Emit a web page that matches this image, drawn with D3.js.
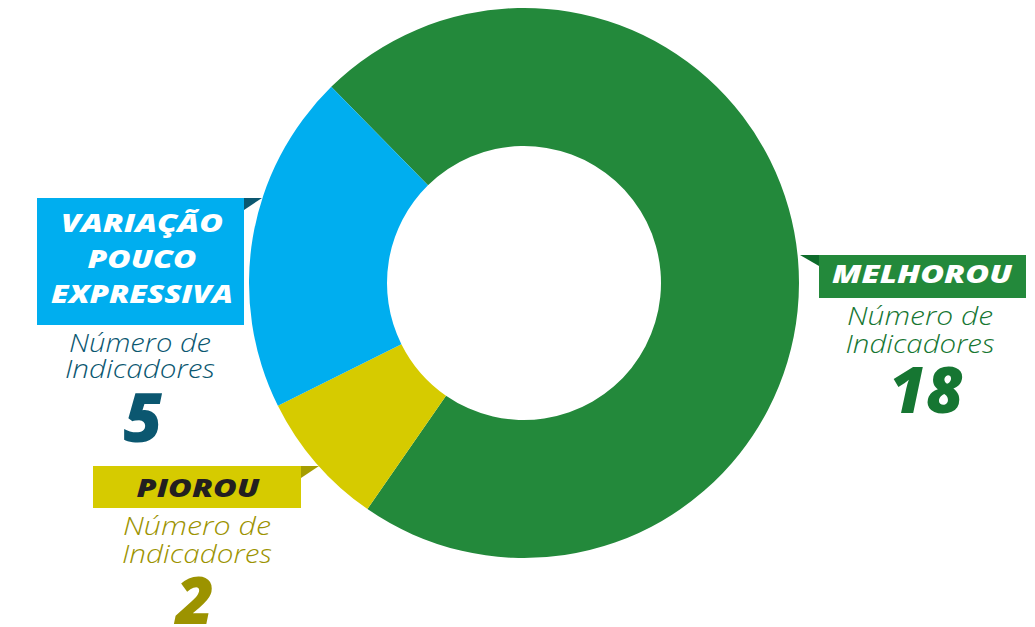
<!DOCTYPE html>
<html lang="pt-BR">
<head>
<meta charset="utf-8">
<script src="https://cdn.jsdelivr.net/npm/d3@7"></script>
<style>
  html, body { margin: 0; padding: 0; background: #ffffff; }
  svg { display: block; }
  .title { font-family: "Open Sans", "DejaVu Sans", sans-serif; font-weight: 800; font-style: italic; }
  .sub { font-family: "Open Sans", "DejaVu Sans", sans-serif; font-weight: 300; font-style: italic; }
  .num { font-family: "Open Sans", "DejaVu Sans", sans-serif; font-weight: 800; font-style: italic; }
</style>
</head>
<body>
<svg id="chart" width="1035" height="627"></svg>
<script>
// Indicator counts by outcome
const categories = ["MELHOROU", "PIOROU", "VARIAÇÃO POUCO EXPRESSIVA"];
const titleLines = [["MELHOROU"], ["PIOROU"], ["VARIAÇÃO", "POUCO", "EXPRESSIVA"]];
const values = [18, 2, 5];
const subtitleLines = ["Número de", "Indicadores"];

// Colours per category: slice, callout text, callout pointer, title text
const sliceColors = ["#23893b", "#d6cb00", "#00aeef"];
const textColors = ["#167632", "#9c9300", "#0b5770"];
const pointerColors = ["#0e6b2b", "#a59d00", "#0b5770"];
const titleColors = ["#ffffff", "#231f20", "#ffffff"];

const width = 1035, height = 627;
const svg = d3.select("#chart");

// Ring geometry
const cx = 524, cy = 283, outerR = 275, innerR = 137;
const startDeg = -44.5;

const pie = d3.pie()
  .sort(null)
  .value(d => d)
  .startAngle(startDeg * Math.PI / 180)
  .endAngle((startDeg + 360) * Math.PI / 180);

const arc = d3.arc().innerRadius(innerR).outerRadius(outerR);

const color = d3.scaleOrdinal().domain(categories).range(sliceColors);

svg.append("g")
  .attr("transform", `translate(${cx},${cy})`)
  .selectAll("path")
  .data(pie(values))
  .join("path")
  .attr("d", arc)
  .attr("fill", (d, i) => color(categories[i]));

// Callout layout: box, title baselines & widths, subtitle baselines & widths, number
const layout = [
  { box: [819, 255, 207, 43], pointerSide: "left",
    titleY: [283], titleW: [180], tx: 922,
    subX: 920, subY: [325, 353], subW: [146, 149],
    numX: 926, numY: 413, numSize: 64 },
  { box: [93, 466, 208, 42], pointerSide: "right",
    titleY: [497], titleW: [123], tx: 198,
    subX: 197, subY: [535, 563], subW: [148, 150],
    numX: 195, numY: 624, numSize: 66 },
  { box: [37, 198, 207, 127], pointerSide: "right",
    titleY: [232, 268, 303], titleW: [162, 109, 182], tx: 142,
    subX: 140, subY: [352, 378], subW: [142, 150],
    numX: 143, numY: 442, numSize: 67 }
];

const callouts = svg.append("g").selectAll("g")
  .data(categories)
  .join("g");

callouts.each(function (cat, i) {
  const g = d3.select(this);
  const L = layout[i];
  const [bx, by, bw, bh] = L.box;

  // small pointer flag at the top corner facing the ring
  const p = L.pointerSide === "left"
    ? [[bx - 19, by], [bx, by], [bx, by + 11]]
    : [[bx + bw, by], [bx + bw + 18, by], [bx + bw, by + 12]];
  g.append("path")
    .attr("d", d3.line()(p) + "Z")
    .attr("fill", pointerColors[i]);

  g.append("rect")
    .attr("x", bx).attr("y", by)
    .attr("width", bw).attr("height", bh)
    .attr("fill", color(cat));

  titleLines[i].forEach((t, k) => {
    g.append("text")
      .attr("class", "title")
      .attr("x", L.tx).attr("y", L.titleY[k])
      .attr("text-anchor", "middle")
      .attr("font-size", 25)
      .attr("textLength", L.titleW[k])
      .attr("lengthAdjust", "spacingAndGlyphs")
      .attr("fill", titleColors[i])
      .text(t);
  });

  subtitleLines.forEach((t, k) => {
    g.append("text")
      .attr("class", "sub")
      .attr("x", L.subX).attr("y", L.subY[k])
      .attr("text-anchor", "middle")
      .attr("font-size", 26)
      .attr("textLength", L.subW[k])
      .attr("lengthAdjust", "spacingAndGlyphs")
      .attr("fill", textColors[i])
      .text(t);
  });

  g.append("text")
    .attr("class", "num")
    .attr("x", L.numX).attr("y", L.numY)
    .attr("text-anchor", "middle")
    .attr("font-size", L.numSize)
    .attr("fill", textColors[i])
    .text(values[i]);
});
</script>
</body>
</html>
